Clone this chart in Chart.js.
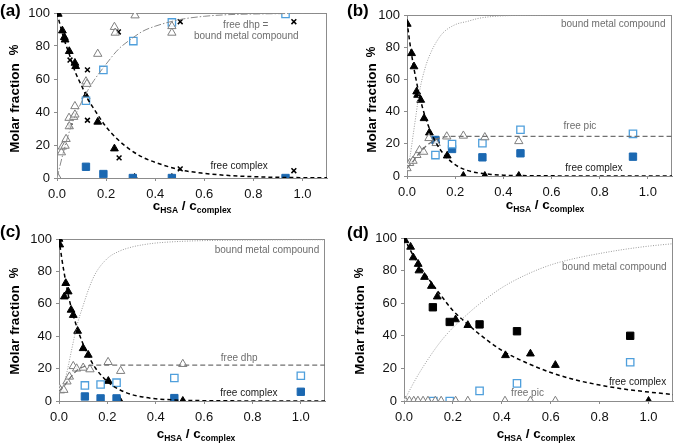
<!DOCTYPE html>
<html>
<head>
<meta charset="utf-8">
<script src="https://cdn.jsdelivr.net/npm/chart.js@4.4.1/dist/chart.umd.min.js"></script>
<style>
  html, body { margin: 0; padding: 0; background: #fff; }
  body { width: 685px; height: 445px; position: relative; overflow: hidden; }
  canvas { position: absolute; }
</style>
</head>
<body>
<canvas id="chartA" width="342" height="222" style="left:0;top:0"></canvas>
<canvas id="chartB" width="343" height="222" style="left:342px;top:0"></canvas>
<canvas id="chartC" width="342" height="223" style="left:0;top:222px"></canvas>
<canvas id="chartD" width="343" height="223" style="left:342px;top:222px"></canvas>
<script>
// shared ticks
const xTicks = [0, 0.2, 0.4, 0.6, 0.8, 1.0];
const yTicks = [0, 20, 40, 60, 80, 100];

// ---- panel (a) ----
const fitX_A = [0, 0.025, 0.05, 0.075, 0.1, 0.125, 0.15, 0.2, 0.25, 0.3, 0.35, 0.4, 0.5, 0.6, 0.7, 0.8, 0.9, 1.0, 1.1];
const fitComplex_A = [100, 86, 75, 64, 56, 48, 42, 31, 23, 17, 12.5, 9.5, 5, 2.8, 1.5, 0.8, 0.4, 0.2, 0.1];
const fitBound_A = [0, 15, 28, 38, 46, 53, 59, 69, 78, 84, 89, 92, 96, 98, 99, 99.4, 99.6, 99.8, 99.9];
const triFilledX_A = [0.005, 0.022, 0.03, 0.033, 0.05, 0.073, 0.076, 0.118, 0.166, 0.234, 0.316, 0.468];
const triFilledY_A = [99.4, 89.3, 85.3, 83.8, 76.8, 69.7, 67.7, 49.5, 34, 17.8, 0, 0];
const triOpenX_A = [0.004, 0.018, 0.022, 0.033, 0.037, 0.049, 0.05, 0.068, 0.073, 0.073, 0.118, 0.122, 0.166, 0.234, 0.237, 0.318, 0.468, 0.468];
const triOpenY_A = [0, 15.5, 19, 19.5, 23.6, 36.4, 31.3, 37, 38.4, 43.5, 58.5, 57, 75.2, 91.5, 88, 98.5, 92, 88];
const crossX_A = [0.053, 0.053, 0.124, 0.124, 0.25, 0.253, 0.502, 0.502, 0.965, 0.965];
const crossY_A = [71.5, 31.5, 65.5, 35, 88.5, 12.2, 94.7, 5.5, 94.7, 4.4];
const sqOpenX_A = [0.118, 0.189, 0.311, 0.468, 0.931];
const sqOpenY_A = [46.8, 65.5, 83, 94.3, 99.4];
const sqFilledX_A = [0.118, 0.189, 0.309, 0.468, 0.931];
const sqFilledY_A = [6.8, 2.4, 0, 0, 0];

// ---- panel (b) ----
const fitX_B = [0, 0.0125, 0.025, 0.0375, 0.05, 0.075, 0.1, 0.125, 0.15, 0.2, 0.25, 0.3, 0.35, 0.4, 0.5, 0.6, 0.7, 0.8, 0.9, 1.0, 1.1];
const fitComplex_B = [96, 82, 70, 60, 51, 37, 27, 19.5, 14, 7, 3.5, 1.8, 1, 0.5, 0.2, 0.1, 0, 0, 0, 0, 0];
const fitBound_B = [3, 12, 25, 38, 51, 67, 77, 84, 89, 94, 96, 98, 99, 99.5, 99.8, 100, 100, 100, 100, 100, 100];
const fitPic_B = [5, 7, 9, 11.5, 14, 18, 21, 23, 24.2, 24.6, 24.6, 24.6, 24.6, 24.6, 24.6, 24.6, 24.6, 24.6, 24.6, 24.6, 24.6];
const triFilledX_B = [0.001, 0.019, 0.029, 0.04, 0.044, 0.057, 0.071, 0.093, 0.12, 0.167, 0.234, 0.323, 0.464];
const triFilledY_B = [94.4, 76.2, 68, 52.4, 50.3, 47.2, 35.8, 26.9, 21.9, 12.6, 0, 0, 0];
const triOpenX_B = [0, 0.011, 0.025, 0.041, 0.052, 0.069, 0.091, 0.121, 0.165, 0.234, 0.323, 0.464];
const triOpenY_B = [4.8, 8, 9.4, 13, 16, 15, 23.5, 20.4, 24.5, 25, 24, 21.6];
const sqOpenX_B = [0.118, 0.187, 0.313, 0.471, 0.938];
const sqOpenY_B = [13, 19.8, 20.4, 28.7, 26.2];
const sqFilledX_B = [0.118, 0.187, 0.313, 0.471, 0.938];
const sqFilledY_B = [22.4, 16.8, 11.6, 14.1, 12];

// ---- panel (c) ----
const fitX_C = [0, 0.0125, 0.025, 0.0375, 0.05, 0.075, 0.1, 0.125, 0.15, 0.2, 0.25, 0.3, 0.35, 0.4, 0.5, 0.6, 0.7, 0.8, 0.9, 1.0, 1.1];
const fitComplex_C = [100, 87, 76, 66, 58, 45, 35, 27, 20.5, 12, 7, 4, 2.4, 1.4, 0.5, 0.2, 0.1, 0, 0, 0, 0];
const fitBound_C = [5, 8, 13, 21, 30, 47, 59, 70, 78.5, 88, 92.5, 95, 96.5, 97.5, 98.5, 99, 99.2, 99.3, 99.4, 99.5, 99.5];
const fitDhp_C = [6, 8, 10, 12.5, 15, 19, 21, 22, 22.2, 22.2, 22.2, 22.2, 22.2, 22.2, 22.2, 22.2, 22.2, 22.2, 22.2, 22.2, 22.2];
const triFilledX_C = [0, 0.003, 0.022, 0.028, 0.038, 0.05, 0.059, 0.077, 0.1, 0.121, 0.204, 0.252, 0.512];
const triFilledY_C = [100, 96.5, 64.4, 72.7, 67.5, 56.2, 53, 43.2, 32.5, 28.4, 12.3, 0, 0];
const triOpenX_C = [0, 0.006, 0.02, 0.033, 0.043, 0.059, 0.073, 0.1, 0.128, 0.203, 0.255, 0.512];
const triOpenY_C = [8, 6.5, 6.8, 12, 15, 21.5, 20, 20.5, 19.5, 24, 18.5, 22.8];
const sqOpenX_C = [0.107, 0.172, 0.238, 0.477, 1.0];
const sqOpenY_C = [9.6, 10.2, 11.3, 14.2, 15.6];
const sqFilledX_C = [0.107, 0.172, 0.238, 0.477, 1.0];
const sqFilledY_C = [2.8, 1.6, 1.6, 1.8, 5.7];

// ---- panel (d) ----
const fitX_D = [0, 0.05, 0.1, 0.15, 0.2, 0.25, 0.3, 0.4, 0.5, 0.6, 0.7, 0.8, 0.9, 1.0, 1.1];
const fitComplex_D = [100, 86, 75, 65, 55.5, 48.5, 42, 31, 23.5, 17.5, 13, 9.8, 7.3, 5.5, 4];
const fitBound_D = [0, 14, 26, 36.5, 45, 52, 58.5, 69.5, 77.5, 83.5, 87.5, 90.5, 93, 95, 96.5];
const triFilledX_D = [0.004, 0.027, 0.038, 0.058, 0.061, 0.084, 0.112, 0.136, 0.211, 0.261, 0.415, 0.517, 0.619, 1.0];
const triFilledY_D = [98.5, 94.5, 88, 84, 80, 76, 70.5, 64, 50, 46.5, 28, 29, 22, 0];
const sqBlackX_D = [0.118, 0.187, 0.309, 0.462, 0.925];
const sqBlackY_D = [57.5, 48.5, 47, 42.8, 40];
const sqOpenX_D = [0.12, 0.187, 0.309, 0.462, 0.925];
const sqOpenY_D = [0, 0, 6.2, 10.8, 23.8];
const triOpenX_D = [0.005, 0.022, 0.04, 0.057, 0.078, 0.098, 0.128, 0.152, 0.211, 0.261, 0.413, 0.517, 0.619];
const triOpenY_D = [0, 0, 0, 0, 0, 0, 0, 0, 0, 0, 0, 0, 0];

const FONT = '"Liberation Sans", Arial, sans-serif';

function pts(xs, ys) {
  return xs.map((x, i) => ({ x: x, y: ys[i] }));
}

// styles for curves and markers
function curve(xs, ys, color, width, dash) {
  return { type: 'line', data: pts(xs, ys), borderColor: color, borderWidth: width, borderDash: dash,
    pointRadius: 0, fill: false, cubicInterpolationMode: 'monotone', showLine: true };
}
function marks(xs, ys, kind) {
  const s = {
    triFilled: { pointStyle: 'triangle', pointRadius: 4.5, backgroundColor: '#000', borderColor: '#000', borderWidth: 1 },
    triOpen: { pointStyle: 'triangle', pointRadius: 4.8, backgroundColor: 'rgba(255,255,255,0.85)', borderColor: '#7f7f7f', borderWidth: 1 },
    sqOpen: { pointStyle: 'rect', pointRadius: 5.2, backgroundColor: '#fff', borderColor: '#4f9fdc', borderWidth: 1.3 },
    sqFilled: { pointStyle: 'rect', pointRadius: 5.2, backgroundColor: '#1b68b1', borderColor: '#1b68b1', borderWidth: 1 },
    sqBlack: { pointStyle: 'rect', pointRadius: 5.2, backgroundColor: '#000', borderColor: '#000', borderWidth: 1 },
    cross: { pointStyle: 'crossRot', pointRadius: 3.4, backgroundColor: '#000', borderColor: '#000', borderWidth: 1.5 }
  }[kind];
  return Object.assign({ type: 'scatter', data: pts(xs, ys), showLine: false, pointHoverRadius: 0 }, s);
}

function drawXTitle(ctx, cx, baseline) {
  const parts = [['c', 13.5, 0], ['HSA', 8.5, 3], [' / ', 13.5, 0], ['c', 13.5, 0], ['complex', 8.5, 3]];
  let w = 0;
  parts.forEach(p => { ctx.font = 'bold ' + p[1] + 'px ' + FONT; w += ctx.measureText(p[0]).width; });
  let x = cx - w / 2;
  ctx.textAlign = 'left';
  ctx.textBaseline = 'alphabetic';
  parts.forEach(p => {
    ctx.font = 'bold ' + p[1] + 'px ' + FONT;
    ctx.fillText(p[0], x, baseline + p[2]);
    x += ctx.measureText(p[0]).width;
  });
}

function makePanel(id, cfg) {
  const decor = {
    id: 'decor',
    beforeDatasetsDraw(chart) {
      const a = chart.chartArea, ctx = chart.ctx;
      ctx.save();
      ctx.strokeStyle = '#8c8c8c';
      ctx.lineWidth = 1;
      ctx.strokeRect(a.left + 0.5, a.top + 0.5, a.right - a.left - 1, a.bottom - a.top);
      ctx.restore();
    },
    afterDraw(chart) {
      const ctx = chart.ctx, xs = chart.scales.x, ys = chart.scales.y;
      ctx.save();
      ctx.fillStyle = '#000';
      // panel letter
      ctx.font = 'bold 17px ' + FONT;
      ctx.textAlign = 'left';
      ctx.textBaseline = 'alphabetic';
      ctx.fillText(cfg.letter, cfg.letterPos[0], cfg.letterPos[1]);
      // y title
      ctx.save();
      ctx.translate(cfg.yTitle[0], cfg.yTitle[1]);
      ctx.rotate(-Math.PI / 2);
      ctx.textAlign = 'center';
      ctx.textBaseline = 'middle';
      ctx.font = 'bold 13.5px ' + FONT;
      ctx.fillText('Molar fraction', 0, 0);
      ctx.font = 'bold 12px ' + FONT;
      ctx.fillText('%', cfg.yTitle[1] - cfg.yTitle[2], 0);
      ctx.restore();
      // x title
      ctx.fillStyle = '#000';
      drawXTitle(ctx, cfg.xTitle[0], cfg.xTitle[1]);
      // curve labels
      ctx.font = '10px ' + FONT;
      ctx.textAlign = 'center';
      ctx.textBaseline = 'middle';
      cfg.notes.forEach(n => {
        ctx.fillStyle = n[3];
        ctx.fillText(n[0], xs.getPixelForValue(n[1]), ys.getPixelForValue(n[2]));
      });
      ctx.restore();
    }
  };

  const tickFont = { family: FONT, size: 13 };
  return new Chart(document.getElementById(id), {
    type: 'scatter',
    data: { datasets: cfg.datasets },
    options: {
      responsive: false,
      animation: false,
      devicePixelRatio: 1,
      layout: { padding: { left: 0, top: cfg.area.top, right: cfg.area.right, bottom: 0 } },
      plugins: { legend: { display: false }, tooltip: { enabled: false } },
      scales: {
        x: {
          type: 'linear', min: 0, max: 1.1,
          afterBuildTicks: s => { s.ticks = xTicks.map(v => ({ value: v })); },
          afterFit: s => { s.height = cfg.area.xh; },
          ticks: { font: tickFont, color: '#111', padding: 6, maxRotation: 0, callback: v => v.toFixed(1) },
          grid: { drawOnChartArea: false, drawTicks: true, tickLength: 3, color: '#8c8c8c' },
          border: { color: '#8c8c8c', width: 1 }
        },
        y: {
          type: 'linear', min: 0, max: 100,
          afterBuildTicks: s => { s.ticks = yTicks.map(v => ({ value: v })); },
          afterFit: s => { s.width = cfg.area.left; },
          ticks: { font: tickFont, color: '#111', padding: 4 },
          grid: { drawOnChartArea: false, drawTicks: true, tickLength: 3, color: '#8c8c8c' },
          border: { color: '#8c8c8c', width: 1 }
        }
      }
    },
    plugins: [decor]
  });
}

const DASH = [4, 3];
const GRAY_TXT = '#6e6e6e';
const DARK_TXT = '#1a1a1a';

makePanel('chartA', {
  letter: '(a)', letterPos: [0, 16],
  area: { left: 57, top: 13, right: 15, xh: 44 },
  yTitle: [15, 108, 50], xTitle: [192, 210],
  notes: [
    ['free dhp =', 0.769, 92.7, GRAY_TXT],
    ['bound metal compound', 0.771, 86.2, GRAY_TXT],
    ['free complex', 0.742, 7.3, DARK_TXT]
  ],
  datasets: [
    curve(fitX_A, fitBound_A, '#8a8a8a', 1, [7, 2, 1.5, 2]),
    curve(fitX_A, fitComplex_A, '#000', 1.5, DASH),
    marks(triOpenX_A, triOpenY_A, 'triOpen'),
    marks(sqOpenX_A, sqOpenY_A, 'sqOpen'),
    marks(sqFilledX_A, sqFilledY_A, 'sqFilled'),
    marks(crossX_A, crossY_A, 'cross'),
    marks(triFilledX_A, triFilledY_A, 'triFilled')
  ]
});

makePanel('chartB', {
  letter: '(b)', letterPos: [5, 16],
  area: { left: 65, top: 15, right: 13, xh: 46 },
  yTitle: [30, 108, 52], xTitle: [203, 209],
  notes: [
    ['bound metal compound', 0.856, 94.4, GRAY_TXT],
    ['free pic', 0.718, 31, GRAY_TXT],
    ['free complex', 0.776, 4.8, DARK_TXT]
  ],
  datasets: [
    curve(fitX_B, fitBound_B, '#9a9a9a', 1, [1, 1.5]),
    curve(fitX_B, fitPic_B, '#707070', 1.3, [5, 3]),
    curve(fitX_B, fitComplex_B, '#000', 1.5, DASH),
    marks(triOpenX_B, triOpenY_B, 'triOpen'),
    marks(sqOpenX_B, sqOpenY_B, 'sqOpen'),
    marks(sqFilledX_B, sqFilledY_B, 'sqFilled'),
    marks(triFilledX_B, triFilledY_B, 'triFilled')
  ]
});

makePanel('chartC', {
  letter: '(c)', letterPos: [0, 15],
  area: { left: 59, top: 17, right: 17, xh: 44 },
  yTitle: [15, 108, 51], xTitle: [196, 216],
  notes: [
    ['bound metal compound', 0.86, 92.8, GRAY_TXT],
    ['free dhp', 0.745, 26.3, GRAY_TXT],
    ['free complex', 0.785, 4.8, DARK_TXT]
  ],
  datasets: [
    curve(fitX_C, fitBound_C, '#9a9a9a', 1, [1, 1.5]),
    curve(fitX_C, fitDhp_C, '#707070', 1.3, [5, 3]),
    curve(fitX_C, fitComplex_C, '#000', 1.5, DASH),
    marks(triOpenX_C, triOpenY_C, 'triOpen'),
    marks(sqOpenX_C, sqOpenY_C, 'sqOpen'),
    marks(sqFilledX_C, sqFilledY_C, 'sqFilled'),
    marks(triFilledX_C, triFilledY_C, 'triFilled')
  ]
});

makePanel('chartD', {
  letter: '(d)', letterPos: [5, 16],
  area: { left: 62, top: 16, right: 12, xh: 44 },
  yTitle: [18, 108, 51], xTitle: [194, 216],
  notes: [
    ['bound metal compound', 0.86, 81.8, GRAY_TXT],
    ['free complex', 0.955, 11.5, DARK_TXT],
    ['free pic', 0.505, 4.7, GRAY_TXT]
  ],
  datasets: [
    curve(fitX_D, fitBound_D, '#9a9a9a', 1, [1, 1.5]),
    curve(fitX_D, fitComplex_D, '#000', 1.5, DASH),
    marks(triOpenX_D, triOpenY_D, 'triOpen'),
    marks(sqOpenX_D, sqOpenY_D, 'sqOpen'),
    marks(sqBlackX_D, sqBlackY_D, 'sqBlack'),
    marks(triFilledX_D, triFilledY_D, 'triFilled')
  ]
});
</script>
</body>
</html>
